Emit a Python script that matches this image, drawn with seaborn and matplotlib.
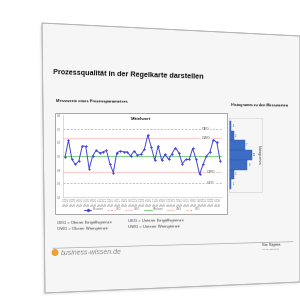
import numpy as np
import pandas as pd
import matplotlib
matplotlib.use("Agg")
import matplotlib.pyplot as plt
import matplotlib.patches as mpatches
from matplotlib.lines import Line2D
import seaborn as sns

messwerte = [0.493, 0.615, 0.475, 0.438, 0.463, 0.574, 0.571, 0.406, 0.500, 0.541,
             0.524, 0.530, 0.541, 0.443, 0.377, 0.524, 0.537, 0.530, 0.530, 0.500,
             0.537, 0.507, 0.512, 0.549, 0.655, 0.566, 0.468, 0.574, 0.468, 0.512,
             0.475, 0.517, 0.561, 0.524, 0.443, 0.475, 0.475, 0.556, 0.475, 0.364,
             0.438, 0.500, 0.530, 0.620, 0.600, 0.460]
stichproben = ["Nr. %02d" % i for i in range(1, len(messwerte) + 1)]

oeg = 0.70
owg = 0.63
mittelwert = 0.50
uwg = 0.385
ueg = 0.30

y_ticks = [0.2, 0.3, 0.4, 0.5, 0.6, 0.7, 0.8]
y_ticklabels = ["0,2", "0,3", "0,4", "0,5", "0,6", "0,7", "0,8"]

# Histogramm (Klassen von oben nach unten)
hist_klassen = ["0,70-0,77", "0,62-0,70", "0,55-0,62", "0,47-0,55", "0,40-0,47", "0,33-0,40", "0,25-0,33"]
hist_counts = [1, 2, 7, 10, 8, 2, 1]

sns.set_theme(style="white")
plt.rcParams["font.family"] = ["Liberation Sans", "DejaVu Sans"]

fig = plt.figure(figsize=(3, 3), dpi=100)
fig.patch.set_facecolor("white")

# background axes in pixel coords
bg = fig.add_axes([0, 0, 1, 1])
bg.set_xlim(0, 300)
bg.set_ylim(300, 0)
bg.axis("off")

page = [(42, 23), (300, 36), (300, 282), (45, 293)]
for k, a in enumerate([0.05, 0.07, 0.09]):
    off = 3 - k
    shadow = mpatches.Polygon([(x - off, y + off) for x, y in page], closed=True,
                              facecolor="#999999", edgecolor="none", alpha=a)
    bg.add_patch(shadow)
page_poly = mpatches.Polygon(page, closed=True, facecolor="#f6f6f6", edgecolor="#b5b5b5", lw=0.6)
bg.add_patch(page_poly)
gx, gy = np.meshgrid(np.linspace(0, 1, 60), np.linspace(0, 1, 60))
grad = 0.90 + 0.10 * np.clip(0.6 * gy + 0.5 * gx, 0, 1)
im = bg.imshow(grad, cmap="gray", vmin=0, vmax=1, extent=(40, 300, 295, 20), aspect="auto")
im.set_clip_path(page_poly)
bg.add_patch(mpatches.Polygon(page, closed=True, facecolor="none", edgecolor="#b5b5b5", lw=0.6))

bg.text(53, 75, "Prozessqualität in der Regelkarte darstellen", fontsize=5.2, fontweight="bold",
        color="#111111", va="center", rotation=-1.8)
bg.text(56, 101.5, "Messwerte eines Prozessparameters", fontsize=3, fontweight="bold",
        color="#222222", va="center", rotation=-0.6)
bg.text(231, 105, "Histogramm zu den Messwerten", fontsize=2.7, fontweight="bold",
        color="#222222", va="center", rotation=-0.6)

# chart frame
bg.add_patch(mpatches.Rectangle((55, 113), 172, 101, facecolor="white", edgecolor="#9a9a9a", lw=0.6))
bg.text(141, 119, "Mittelwert", fontsize=3.2, fontweight="bold", color="#222222", ha="center", va="center")

bg.text(57, 222.5, "OEG = Oberer Eingriffsgrenze", fontsize=3, color="#444444", va="center", rotation=0.6)
bg.text(57, 229, "OWG = Oberer Warngrenze", fontsize=3, color="#444444", va="center", rotation=0.6)
bg.text(128, 221, "UEG = Unterer Eingriffsgrenze", fontsize=3, color="#444444", va="center", rotation=0.6)
bg.text(128, 227, "UWG = Unterer Warngrenze", fontsize=3, color="#444444", va="center", rotation=0.6)

bg.plot([53, 293], [248.3, 241.7], color="#a8a8a8", lw=0.5)
bg.add_patch(mpatches.Circle((55, 252.5), 2.8, color="#f0a030"))
bg.text(61, 252.5, "business-wissen.de", fontsize=5, style="italic", color="#8a8a8a",
        va="center", rotation=1.2)
bg.text(262, 244.5, "Six Sigma", fontsize=3, color="#333333", va="center", rotation=1.0)
bg.text(262, 249.5, "Art.-Nr. 00769-07", fontsize=1.6, color="#555555", va="center", rotation=1.0)

# control chart
ax = fig.add_axes([63.3 / 300, 1 - 196.7 / 300, (222 - 63.3) / 300, (196.7 - 115.3) / 300])
ax.set_facecolor("none")
df = pd.DataFrame({"nr": np.arange(len(messwerte)), "wert": messwerte})
ax.axhline(oeg, color="#f08a8a", lw=0.5, ls=(0, (3, 2)))
ax.axhline(owg, color="#f3a3a3", lw=0.9, ls=(0, (0.8, 0.8)))
ax.axhline(mittelwert, color="#80d080", lw=0.7)
ax.axhline(uwg, color="#f3a3a3", lw=0.9, ls=(0, (0.8, 0.8)))
ax.axhline(ueg, color="#f08a8a", lw=0.5, ls=(0, (3, 2)))
sns.lineplot(data=df, x="nr", y="wert", ax=ax, color="#4343dc", lw=0.7,
             marker="D", markersize=1.4, markeredgewidth=0)
for val, lab, xp in [(oeg, "OEG", 39.6), (owg, "OWG", 39.6), (uwg, "UWG", 41.2), (ueg, "UEG", 41.2)]:
    ax.text(xp, val, lab, fontsize=2.6, color="#555555", va="center", ha="left",
            bbox=dict(facecolor="white", edgecolor="none", pad=0.3))
ax.set_xlim(-0.5, len(messwerte) - 0.5)
ax.set_ylim(0.2, 0.8)
ax.set_yticks(y_ticks)
ax.set_yticklabels(y_ticklabels)
ax.set_xticks(df["nr"])
ax.set_xticklabels(stichproben, rotation=90)
ax.tick_params(axis="y", length=0, labelsize=2.2, pad=1.5, labelcolor="#777777")
ax.tick_params(axis="x", length=0, labelsize=2.2, pad=1.0, labelcolor="#8a8a8a")
ax.set_xlabel("")
ax.set_ylabel("")
for s in ["top", "right"]:
    ax.spines[s].set_visible(False)
for s in ["left", "bottom"]:
    ax.spines[s].set_color("#c0c0c0")
    ax.spines[s].set_linewidth(0.4)

handles = [
    Line2D([], [], color="#4343dc", lw=0.7, marker="D", markersize=1.2),
    Line2D([], [], color="#f08a8a", lw=0.5, ls=(0, (3, 2))),
    Line2D([], [], color="#f3a3a3", lw=0.9, ls=(0, (0.8, 0.8))),
    Line2D([], [], color="#80d080", lw=0.7),
    Line2D([], [], color="#f3a3a3", lw=0.9, ls=(0, (0.8, 0.8))),
    Line2D([], [], color="#f08a8a", lw=0.5, ls=(0, (3, 2))),
]
fig.legend(handles, ["Messwert", "OEG", "OWG", "Mittelwert", "UWG", "UEG"],
           loc="center", bbox_to_anchor=(142 / 300, 1 - 209.5 / 300), ncol=6, fontsize=1.8,
           frameon=False, handlelength=3, columnspacing=1.5, handletextpad=0.5,
           labelcolor="#777777")

# histogram
hax = fig.add_axes([229 / 300, 1 - 192 / 300, 33 / 300, 74 / 300])
hax.set_facecolor("none")
sns.barplot(x=hist_counts, y=hist_klassen, orient="h", ax=hax, color="#3d6cc4",
            saturation=1, width=1.0, edgecolor="#2c56a6", linewidth=0.3)
for i, c in enumerate(hist_counts):
    hax.text(c + 0.6, i, str(c), fontsize=1.8, color="#444444", va="center")
hax.set_xlim(0, 14.5)
hax.set_ylim(6.8, -0.8)
hax.set_xticks([])
hax.set_yticks([])
hax.set_xlabel("")
hax.set_ylabel("")
for s in hax.spines.values():
    s.set_color("#d0d0d0")
    s.set_linewidth(0.4)
hax.text(13.2, 3, "Histogramm", fontsize=2.6, color="#333333", rotation=270,
         ha="center", va="center")

fig.savefig("out.png", dpi=100, facecolor="white")
